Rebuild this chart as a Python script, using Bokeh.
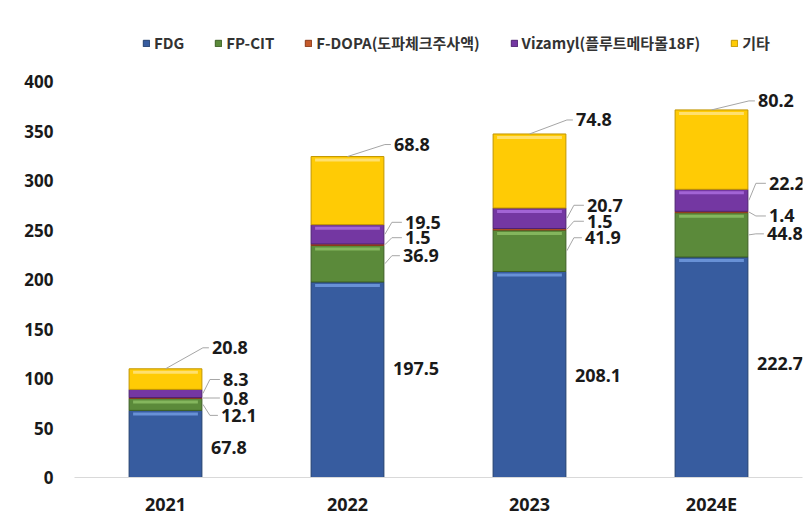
import numpy as np
from bokeh.plotting import figure
from bokeh.models import ColumnDataSource, Legend, LegendItem, FactorRange, FixedTicker, Range1d
from bokeh.embed import file_html
from bokeh.resources import INLINE
from bokeh.core.properties import value

# ---------------- data ----------------
years = ["2021", "2022", "2023", "2024E"]
series_labels = ["FDG", "FP-CIT", "F-DOPA(도파체크주사액)", "Vizamyl(플루트메타몰18F)", "기타"]
fdg = [67.8, 197.5, 208.1, 222.7]
fpcit = [12.1, 36.9, 41.9, 44.8]
fdopa = [0.8, 1.5, 1.5, 1.4]
vizamyl = [8.3, 19.5, 20.7, 22.2]
etc = [20.8, 68.8, 74.8, 80.2]
y_ticks = [0, 50, 100, 150, 200, 250, 300, 350, 400]

keys = ["fdg", "fpcit", "fdopa", "vizamyl", "etc"]
values = [fdg, fpcit, fdopa, vizamyl, etc]

# ---------------- style ----------------
colors = ["#375C9F", "#5B8A3A", "#C55A2B", "#7437A2", "#FFCB05"]
edges = ["#23406F", "#3D5F25", "#8A3A1A", "#4E2271", "#C29600"]
hilite = ["#6E97DB", "#88BA62", "#E8885A", "#A769DA", "#FFE27A"]

W, H = 810, 519
BL, BR, BT, BB = 74, 8, 26, 42
FW = W - BL - BR
FH = H - BT - BB
PX_Y = 0.99                      # pixels per unit on the value axis
Y_END = FH / PX_Y
PX_X = FW / len(years)
BAR_W = 0.4

label_dx = [9, 19, 21, 21, 10]             # px from bar right edge
label_dy = [[4, -11, 1, -4],               # px (downward +) from segment middle / bar top
            [11, -8, -13, -1],
            [0, -7, -8, 4],
            [-14, -12, -13, -17],
            [-21, -12, -14, -9]]
TXT = "#1A1A1A"
FONT = "Noto Sans"

# ---------------- figure ----------------
p = figure(x_range=FactorRange(*years), y_range=Range1d(0, Y_END),
           width=W, height=H, output_backend="svg", toolbar_location=None,
           min_border_left=BL, min_border_right=BR, min_border_top=BT, min_border_bottom=BB)
p.outline_line_color = None
p.xgrid.visible = False
p.ygrid.visible = False
p.background_fill_color = "white"

src = ColumnDataSource(dict(years=years, **{k: v for k, v in zip(keys, values)}))
renderers = p.vbar_stack(keys, x="years", width=BAR_W, source=src,
                         fill_color=colors, line_color=edges, line_width=1)

# stacked geometry derived from data
arr = np.array(values)
tops = np.cumsum(arr, axis=0)
bottoms = tops - arr
xc = np.arange(len(years)) + 0.5
right = xc + BAR_W / 2

# bevel highlight strips near the top of each segment
for k in range(len(keys)):
    hx, ht, hb = [], [], []
    for i in range(len(years)):
        if arr[k, i] * PX_Y >= 9:
            hx.append(xc[i])
            ht.append(tops[k, i] - 2 / PX_Y)
            hb.append(tops[k, i] - 5 / PX_Y)
    if hx:
        p.vbar(x=hx, top=ht, bottom=hb, width=BAR_W - 8 / PX_X,
               fill_color=hilite[k], line_color=None, fill_alpha=0.9)

# labels and leader lines
lx, ly, lt = [], [], []
mxs, mys = [], []
for k in range(len(keys)):
    for i in range(len(years)):
        if k == len(keys) - 1:
            anchor = tops[k, i]
        else:
            anchor = (tops[k, i] + bottoms[k, i]) / 2
        x_lab = right[i] + label_dx[k] / PX_X
        y_lab = anchor - label_dy[k][i] / PX_Y
        lx.append(x_lab)
        ly.append(y_lab)
        lt.append(f"{arr[k, i]:.1f}")
        if k == len(keys) - 1:
            mxs.append([xc[i], x_lab - 9 / PX_X, x_lab - 3 / PX_X])
            mys.append([anchor, y_lab, y_lab])
        elif k > 0:
            mxs.append([right[i] + 1 / PX_X, right[i] + 8 / PX_X, x_lab - 3 / PX_X])
            mys.append([anchor, y_lab, y_lab])

p.multi_line(xs=mxs, ys=mys, line_color="#A6A6A6", line_width=1)
p.text(x=lx, y=ly, text=lt, text_font=value(FONT), text_font_style="bold",
       text_font_size="18px", text_baseline="middle", text_align="left", text_color=TXT)

# axes
p.xaxis.axis_line_color = "#D9D9D9"
p.xaxis.major_tick_line_color = None
p.xaxis.minor_tick_line_color = None
p.xaxis.major_tick_out = 0
p.xaxis.axis_label_standoff = 0
p.xaxis.major_label_text_font = FONT
p.xaxis.major_label_text_font_style = "bold"
p.xaxis.major_label_text_font_size = "18px"
p.xaxis.major_label_text_color = TXT
p.xaxis.major_label_standoff = 14

p.yaxis.ticker = FixedTicker(ticks=y_ticks)
p.yaxis.axis_line_color = None
p.yaxis.major_tick_line_color = None
p.yaxis.minor_tick_line_color = None
p.yaxis.major_tick_out = 0
p.yaxis.major_label_text_font = FONT
p.yaxis.major_label_text_font_style = "bold"
p.yaxis.major_label_text_font_size = "17px"
p.yaxis.major_label_text_color = TXT
p.yaxis.major_label_standoff = 21

# legend sits inside the (invisible) top part of the frame
legend = Legend(items=[LegendItem(label=s, renderers=[r]) for s, r in zip(series_labels, renderers)],
                orientation="horizontal", location=(68, 424), spacing=30,
                glyph_width=8, glyph_height=8, label_standoff=4, padding=0, margin=0,
                label_height=16, border_line_color=None, background_fill_alpha=0,
                label_text_font="Noto Sans CJK KR", label_text_font_style="bold",
                label_text_font_size="15px", label_text_color="#333333")
p.add_layout(legend, "center")

open("out.html", "w").write(file_html(p, INLINE))
